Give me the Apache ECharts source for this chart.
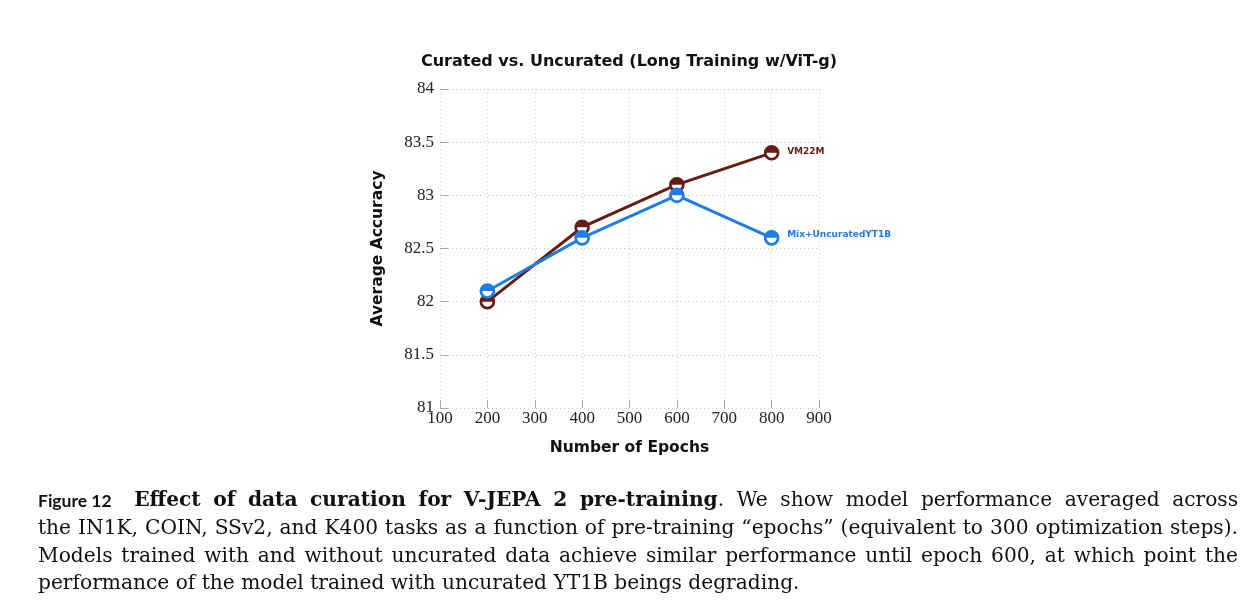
<!DOCTYPE html>
<html>
<head>
<meta charset="utf-8">
<script src="https://cdn.jsdelivr.net/npm/echarts@6/dist/echarts.min.js"></script>
<style>html,body{margin:0;padding:0;background:#fff;}#c{width:1258px;height:611px;}</style>
</head>
<body>
<div id="c"></div>
<script>
const epochs = [200, 400, 600, 800];
const vm22m = [82.0, 82.7, 83.1, 83.4];
const mixYT1B = [82.1, 82.6, 83.0, 82.6];
const seriesNames = ['VM22M', 'Mix+UncuratedYT1B'];
const seriesColors = ['#641d15', '#1f7be9'];
const captionHead = ['Figure 12', 'Effect of data curation for V-JEPA 2 pre-training', '. We show model performance averaged across'];
const captionLines = [
  'the IN1K, COIN, SSv2, and K400 tasks as a function of pre-training \u201cepochs\u201d (equivalent to 300 optimization steps).',
  'Models trained with and without uncurated data achieve similar performance until epoch 600, at which point the',
  'performance of the model trained with uncurated YT1B beings degrading.'
];

function halfSymbol(color) {
  const svg = '<svg xmlns="http://www.w3.org/2000/svg" width="40" height="40" viewBox="0 0 20 20">' +
    '<circle cx="10" cy="10" r="7.6" fill="#ffffff" stroke="' + color + '" stroke-width="3.2"/>' +
    '<path d="M2.4,10 A7.6,7.6 0 0 1 17.6,10 Z" fill="' + color + '"/></svg>';
  return 'image://data:image/svg+xml;charset=utf-8,' + encodeURIComponent(svg);
}

const chart = echarts.init(document.getElementById('c'));
const serif = 'DejaVu Serif';
const sans = 'DejaVu Sans';
const dataSets = [vm22m, mixYT1B];
const labelOffsets = [[0, -1], [0, -3]];

const series = dataSets.map((vals, i) => ({
  name: seriesNames[i],
  type: 'line',
  data: epochs.map((e, k) => [e, vals[k]]),
  symbol: halfSymbol(seriesColors[i]),
  symbolSize: 17,
  lineStyle: { color: seriesColors[i], width: 3 },
  itemStyle: { color: seriesColors[i] },
  z: 2 + i,
  label: {
    show: true,
    position: 'right',
    distance: 7,
    offset: labelOffsets[i],
    formatter: p => p.dataIndex === epochs.length - 1 ? seriesNames[i] : '',
    color: seriesColors[i],
    fontFamily: sans,
    fontWeight: 'bold',
    fontSize: 9
  },
  animation: false
}));

// caption, justified
const cv = document.createElement('canvas').getContext('2d');
function measure(text, f) {
  cv.font = (f.weight || 'normal') + ' ' + f.size + 'px "' + f.family + '"';
  return cv.measureText(text).width;
}
const capSize = 20.2;
const fReg = { family: serif, size: capSize };
const fBold = { family: serif, size: capSize, weight: 'bold' };
const fHead = { family: 'Lato', size: 17.5, weight: 'bold' };
const capLeft = 38, capRight = 1238, capTop = 501, lineH = 27.7;

const lines = [];
{
  const toks = [{ t: captionHead[0], f: fHead, extra: 10 }];
  captionHead[1].split(' ').forEach(w => toks.push({ t: w, f: fBold }));
  const rest = captionHead[2].split(' ');
  toks.push({ t: rest[0], f: fReg, glue: true });
  rest.slice(1).forEach(w => toks.push({ t: w, f: fReg }));
  lines.push({ toks, justify: true });
}
captionLines.forEach((ln, i) => {
  lines.push({ toks: ln.split(' ').map(w => ({ t: w, f: fReg })), justify: i < captionLines.length - 1 });
});

const graphic = [];
lines.forEach((ln, li) => {
  const y = capTop + li * lineH;
  const widths = ln.toks.map(tk => measure(tk.t, tk.f));
  const sum = widths.reduce((a, b) => a + b, 0);
  let gaps = 0, extras = 0;
  ln.toks.forEach((tk, k) => { if (k > 0 && !tk.glue) gaps++; extras += tk.extra || 0; });
  const natural = measure(' ', fReg);
  const gap = ln.justify ? (capRight - capLeft - sum - extras) / gaps : natural;
  let x = capLeft;
  ln.toks.forEach((tk, k) => {
    if (k > 0 && !tk.glue) x += gap;
    graphic.push({
      type: 'text', x: x, y: y,
      style: {
        text: tk.t, fontFamily: tk.f.family, fontSize: tk.f.size, fontWeight: tk.f.weight || 'normal',
        fill: '#111', verticalAlign: 'middle', align: 'left'
      }
    });
    x += widths[k] + (tk.extra || 0);
  });
});

chart.setOption({
  animation: false,
  title: {
    text: 'Curated vs. Uncurated (Long Training w/ViT-g)',
    left: 'center',
    top: 49,
    textStyle: { fontFamily: sans, fontWeight: 'bold', fontSize: 16, color: '#111' }
  },
  grid: { left: 440, right: 439, top: 89, bottom: 203, containLabel: false },
  xAxis: {
    type: 'value', min: 100, max: 900, interval: 100,
    name: 'Number of Epochs', nameLocation: 'middle', nameGap: 32,
    nameTextStyle: { fontFamily: sans, fontWeight: 'bold', fontSize: 15.5, color: '#111' },
    axisLine: { show: false },
    axisTick: { show: true, inside: true, length: 8, lineStyle: { color: '#aaa' } },
    axisLabel: { fontFamily: 'Liberation Serif', fontSize: 17, color: '#222', margin: 2 },
    splitLine: { show: true, lineStyle: { type: [1, 3], color: '#c8c8c8', width: 1 } }
  },
  yAxis: {
    type: 'value', min: 81, max: 84, interval: 0.5,
    name: 'Average Accuracy', nameLocation: 'middle', nameGap: 54, nameRotate: 90,
    nameTextStyle: { fontFamily: sans, fontWeight: 'bold', fontSize: 15.5, color: '#111' },
    axisLine: { show: false },
    axisTick: { show: true, inside: true, length: 8, lineStyle: { color: '#aaa' } },
    axisLabel: { fontFamily: 'Liberation Serif', fontSize: 17, color: '#222', margin: 6 },
    splitLine: { show: true, lineStyle: { type: [1, 3], color: '#c8c8c8', width: 1 } }
  },
  series: series,
  graphic: graphic
});
</script>
</body>
</html>
